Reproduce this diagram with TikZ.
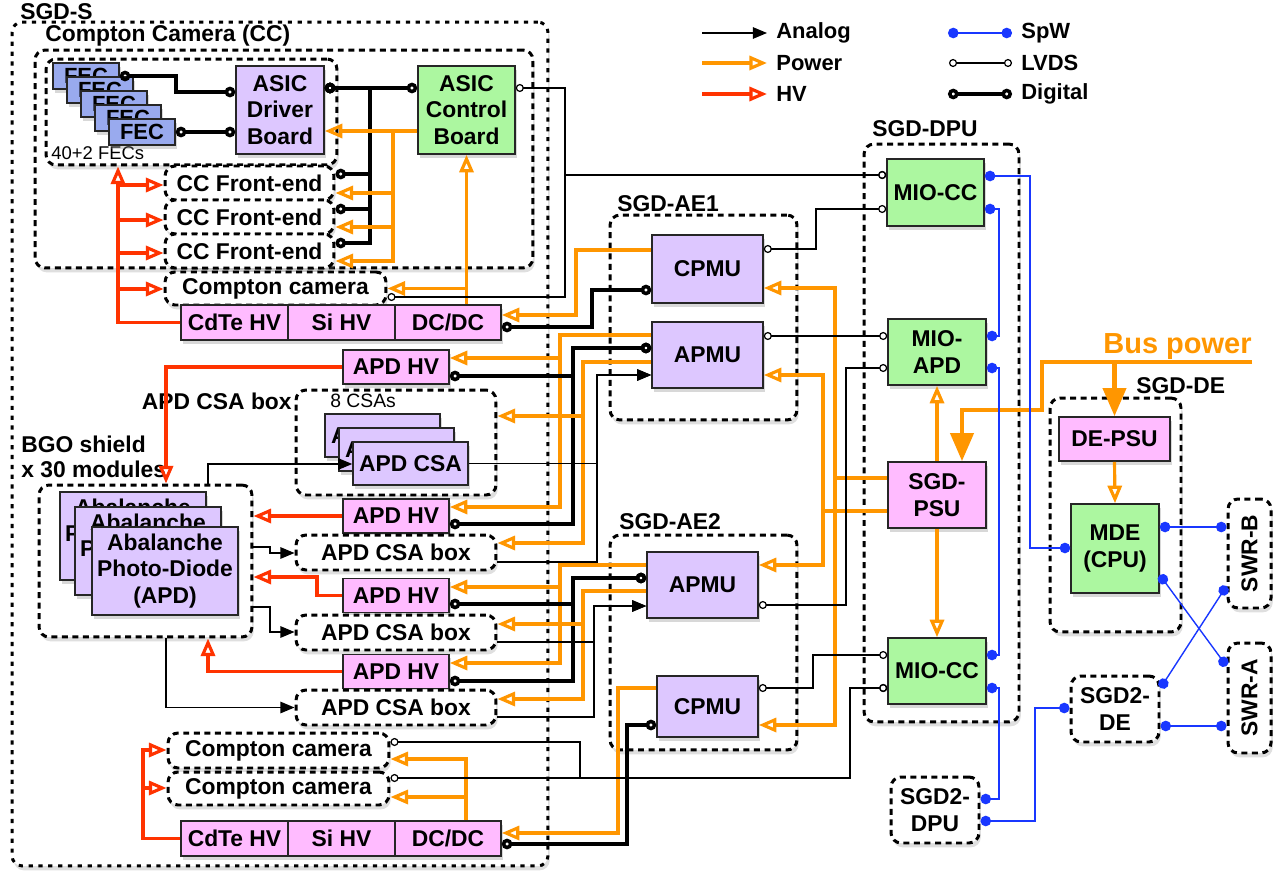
\documentclass[tikz,border=0pt]{standalone}
\usepackage{fontspec}
\setmainfont{Liberation Sans}
\usepackage{xcolor}
\usepackage{tikz}
\usetikzlibrary{arrows.meta, shadows, positioning}

\definecolor{pwr}{RGB}{255,150,0}
\definecolor{hvred}{RGB}{255,51,0}
\definecolor{spwblue}{RGB}{25,55,255}
\definecolor{lav}{RGB}{221,199,255}
\definecolor{pinkfill}{RGB}{255,187,255}
\definecolor{greenfill}{RGB}{172,247,160}
\definecolor{fecfill}{RGB}{153,170,238}

\begin{document}
\begin{tikzpicture}[x=0.02cm, y=-0.02cm,
        unit/.style={rectangle, draw=black!85, line width=0.9pt, inner sep=0pt, align=center, font=\fontsize{13}{15}\selectfont\bfseries, drop shadow={opacity=0.3, shadow xshift=1pt, shadow yshift=-2pt}},
        lavbox/.style={unit, fill=lav},
        pinkbox/.style={unit, fill=pinkfill},
        greenbox/.style={unit, fill=greenfill},
        fecbox/.style={unit, fill=fecfill, minimum width=1.32cm, minimum height=0.52cm, font=\fontsize{12.5}{14}\selectfont\bfseries},
        group/.style={rectangle, draw=black, fill=white, line width=1.7pt, dash pattern=on 3.4pt off 2.6pt, rounded corners=0.2cm, inner sep=0pt, align=center, font=\fontsize{13}{15}\selectfont\bfseries, drop shadow={opacity=0.25, shadow xshift=1pt, shadow yshift=-2.5pt}},
        outer/.style={group, dash pattern=on 2.4pt off 3.2pt},
        lbl/.style={anchor=west, inner sep=0pt, font=\fontsize{13}{14}\selectfont\bfseries},
        note/.style={anchor=west, inner sep=0pt, font=\fontsize{10.5}{12}\selectfont},
        legend/.style={anchor=west, inner xsep=0.18cm, inner ysep=0pt, font=\fontsize{12.5}{14}\selectfont\bfseries},
        analog/.style={draw=black, line width=0.75pt, -{Triangle[length=8pt, width=6.5pt]}},
        power/.style={draw=pwr, line width=1.8pt, -{Triangle[open, length=10pt, width=8pt]}},
        hv/.style={draw=hvred, line width=1.8pt, -{Triangle[open, length=10pt, width=8pt]}},
        digital/.style={draw=black, line width=2pt, {Circle[open, length=6pt, width=6pt]}-{Circle[open, length=6pt, width=6pt]}},
        lvds/.style={draw=black, line width=0.7pt, {Circle[open, length=4.6pt, width=4.6pt]}-{Circle[open, length=4.6pt, width=4.6pt]}},
        spw/.style={draw=spwblue, line width=0.8pt, {Circle[length=6pt]}-{Circle[length=6pt]}},
        bus/.style={draw=pwr, line width=2.6pt, -{Triangle[length=16pt, width=13pt]}}
    ]
        \useasboundingbox (0,0) rectangle (1278,875);

        % Nodes: SGD-S
        \node[outer, minimum width=10.72cm, minimum height=16.88cm] (sgds) at (280,444) {};
        \node[lbl] (sgdslbl) at (20,12) {SGD-S};
        \node[group, minimum width=9.96cm, minimum height=4.36cm] (cc) at (284,159) {};
        \node[lbl] (cclbl) at (45,36) {Compton Camera (CC)};
        \node[group, minimum width=5.82cm, minimum height=2.12cm] (fecgrp) at (191.5,112) {};
        \node[note] (feclbl) at (51,153) {40+2 FECs};
        \node[fecbox] (fec0) at (86,76) {FEC};
        \node[fecbox] (fec1) at (100,90) {FEC};
        \node[fecbox] (fec2) at (114,104) {FEC};
        \node[fecbox] (fec3) at (128,118) {FEC};
        \node[fecbox] (fec4) at (142,132) {FEC};
        \node[lavbox, minimum width=1.76cm, minimum height=1.76cm] (drv) at (280,110) {ASIC\\Driver\\Board};
        \node[greenbox, minimum width=1.94cm, minimum height=1.76cm] (ctl) at (466.5,110) {ASIC\\Control\\Board};
        \node[group, minimum width=3.38cm, minimum height=0.68cm] (fe1) at (249.5,183) {CC Front-end};
        \node[group, minimum width=3.38cm, minimum height=0.68cm] (fe2) at (249.5,217) {CC Front-end};
        \node[group, minimum width=3.38cm, minimum height=0.68cm] (fe3) at (249.5,251) {CC Front-end};
        \node[group, minimum width=4.42cm, minimum height=0.66cm] (cam1) at (275.5,288.5) {Compton camera};
        \node[pinkbox, minimum width=2.14cm, minimum height=0.7cm] (cdte1) at (234.5,322.5) {CdTe HV};
        \node[pinkbox, minimum width=2.14cm, minimum height=0.7cm] (si1) at (341.5,322.5) {Si HV};
        \node[pinkbox, minimum width=2.12cm, minimum height=0.7cm] (dcdc1) at (448,322.5) {DC/DC};

        \node[pinkbox, minimum width=2.12cm, minimum height=0.68cm] (apdhv1) at (396,367) {APD HV};
        \node[group, minimum width=4cm, minimum height=2.1cm] (csabox1) at (396,442.5) {};
        \node[lbl, anchor=east] (csalbl) at (292,401) {APD CSA box};
        \node[note, font=\fontsize{11}{13}\selectfont] (csanum) at (330,401) {8 CSAs};
        \node[lavbox, minimum width=2.3cm, minimum height=0.86cm] (csa0) at (382.5,435.5) {APD CSA};
        \node[lavbox, minimum width=2.3cm, minimum height=0.86cm] (csa1) at (396.5,449.5) {APD CSA};
        \node[lavbox, minimum width=2.3cm, minimum height=0.86cm] (csa2) at (410.5,463.5) {APD CSA};
        \node[pinkbox, minimum width=2.12cm, minimum height=0.68cm] (apdhv2) at (396,516) {APD HV};
        \node[group, minimum width=4cm, minimum height=0.7cm] (csabox2) at (396,552.5) {APD CSA box};
        \node[pinkbox, minimum width=2.12cm, minimum height=0.68cm] (apdhv3) at (396,595.5) {APD HV};
        \node[group, minimum width=4cm, minimum height=0.7cm] (csabox3) at (396,632.5) {APD CSA box};
        \node[pinkbox, minimum width=2.12cm, minimum height=0.68cm] (apdhv4) at (396,671.5) {APD HV};
        \node[group, minimum width=4cm, minimum height=0.7cm] (csabox4) at (396,707.5) {APD CSA box};
        \node[group, minimum width=4.26cm, minimum height=3.04cm] (apdgrp) at (145.5,561) {};
        \node[lbl, align=left] (bgolbl) at (21,457) {BGO shield\\x 30 modules};
        \node[lavbox, minimum width=2.92cm, minimum height=1.76cm] (apd0) at (133,536) {Abalanche\\Photo-Diode\\(APD)};
        \node[lavbox, minimum width=2.92cm, minimum height=1.76cm] (apd1) at (148,551) {Abalanche\\Photo-Diode\\(APD)};
        \node[lavbox, minimum width=2.92cm, minimum height=1.76cm] (apd2) at (165,571) {Abalanche\\Photo-Diode\\(APD)};

        \node[group, minimum width=4.42cm, minimum height=0.7cm] (cam2) at (278.5,750.5) {Compton camera};
        \node[group, minimum width=4.42cm, minimum height=0.66cm] (cam3) at (278.5,788.5) {Compton camera};
        \node[pinkbox, minimum width=2.14cm, minimum height=0.7cm] (cdte2) at (234.5,838.5) {CdTe HV};
        \node[pinkbox, minimum width=2.14cm, minimum height=0.7cm] (si2) at (341.5,838.5) {Si HV};
        \node[pinkbox, minimum width=2.12cm, minimum height=0.7cm] (dcdc2) at (448,838.5) {DC/DC};

        % Nodes: SGD-AE1 / SGD-AE2
        \node[group, minimum width=3.74cm, minimum height=4.1cm] (ae1) at (703.5,317.5) {};
        \node[lbl] (ae1lbl) at (617,204) {SGD-AE1};
        \node[lavbox, minimum width=2.22cm, minimum height=1.36cm] (cpmu1) at (707.5,269) {CPMU};
        \node[lavbox, minimum width=2.22cm, minimum height=1.32cm] (apmu1) at (707.5,355) {APMU};
        \node[group, minimum width=3.74cm, minimum height=4.3cm] (ae2) at (703.5,642.5) {};
        \node[lbl] (ae2lbl) at (619,522) {SGD-AE2};
        \node[lavbox, minimum width=2.22cm, minimum height=1.32cm] (apmu2) at (702.5,585) {APMU};
        \node[lavbox, minimum width=2.02cm, minimum height=1.22cm] (cpmu2) at (707.5,706.5) {CPMU};

        % Nodes: SGD-DPU
        \node[group, minimum width=3.1cm, minimum height=11.56cm] (dpu) at (941.5,433) {};
        \node[lbl] (dpulbl) at (872,129) {SGD-DPU};
        \node[greenbox, minimum width=1.94cm, minimum height=1.34cm] (miocc1) at (935.5,192.5) {MIO-CC};
        \node[greenbox, minimum width=1.96cm, minimum height=1.32cm] (mioapd) at (937,352) {MIO-\\APD};
        \node[pinkbox, minimum width=1.96cm, minimum height=1.32cm] (psu) at (937,495) {SGD-\\PSU};
        \node[greenbox, minimum width=1.96cm, minimum height=1.32cm] (miocc2) at (937,671) {MIO-CC};

        % Nodes: SGD-DE and the rest
        \node[group, minimum width=2.62cm, minimum height=4.68cm] (de) at (1115.5,515) {};
        \node[lbl] (delbl) at (1136,386) {SGD-DE};
        \node[pinkbox, minimum width=2.22cm, minimum height=0.88cm] (depsu) at (1114.5,439) {DE-PSU};
        \node[greenbox, minimum width=1.76cm, minimum height=1.78cm] (mde) at (1115,548.5) {MDE\\(CPU)};
        \node[group, minimum width=0.86cm, minimum height=2.18cm] (swrb) at (1249.5,553.5) {\rotatebox{90}{SWR-B}};
        \node[group, minimum width=0.86cm, minimum height=2.2cm] (swra) at (1249.5,698) {\rotatebox{90}{SWR-A}};
        \node[group, minimum width=1.76cm, minimum height=1.32cm] (sgd2de) at (1115,709) {SGD2-\\DE};
        \node[group, minimum width=1.76cm, minimum height=1.32cm] (sgd2dpu) at (935,810) {SGD2-\\DPU};
        \node[text=pwr, inner sep=0pt, font=\fontsize{16.5}{18}\selectfont\bfseries] (buslbl) at (1177.5,347) {Bus power};
        \coordinate (busin) at (1252,362);

        % Legend
        \coordinate (lgana) at (702,33);
        \coordinate (lgpwr) at (702,63);
        \coordinate (lghv) at (702,94);
        \coordinate (lgspw) at (948,33);
        \coordinate (lglvds) at (949,63);
        \coordinate (lgdig) at (948,94);
        \node[legend] (lganatxt) at (767,33) {Analog};
        \node[legend] (lgpwrtxt) at (767,63) {Power};
        \node[legend] (lghvtxt) at (767,94) {HV};
        \node[legend] (lgspwtxt) at (1012,33) {SpW};
        \node[legend] (lglvdstxt) at (1012,63) {LVDS};
        \node[legend] (lgdigtxt) at (1012,94) {Digital};
        \draw[analog] (lgana) -- (lganatxt.west);
        \draw[power] (lgpwr) -- (lgpwrtxt.west);
        \draw[hv] (lghv) -- (lghvtxt.west);
        \draw[spw] (lgspw) -- (lgspwtxt.west);
        \draw[lvds] (lglvds) -- (lglvdstxt.west);
        \draw[digital] (lgdig) -- (lgdigtxt.west);

        % Connectors: Compton camera
        \draw[digital] (fec0.east) -| (176,92) -- (drv.west |- 0,92);
        \draw[digital] (fec4.east) -- (drv.west |- fec4.east);
        \draw[digital] (drv.east |- 0,88) -- (ctl.west |- 0,88);
        \draw[digital] (drv.east |- 0,88) -| (370,174) -- (fe1.east |- 0,174);
        \draw[digital] (drv.east |- 0,88) -| (370,209) -- (fe2.east |- 0,209);
        \draw[digital] (drv.east |- 0,88) -| (370,243) -- (fe3.east |- 0,243);
        \draw[power] (ctl.west |- 0,131) -- (drv.east |- 0,131);
        \draw[power] (ctl.west |- 0,131) -| (393,193) -- (fe1.east |- 0,193);
        \draw[power] (ctl.west |- 0,131) -| (393,227) -- (fe2.east |- 0,227);
        \draw[power] (ctl.west |- 0,131) -| (393,261) -- (fe3.east |- 0,261);
        \draw[power] (dcdc1.north -| ctl.south) -- (ctl.south);
        \draw[power] (dcdc1.north -| ctl.south) |- (cam1.east);
        \draw[hv] (cdte1.west) -| (fecgrp.south -| 118,0);
        \draw[hv] (cdte1.west) -| (118,185) -- (fe1.west |- 0,185);
        \draw[hv] (cdte1.west) -| (118,220) -- (fe2.west |- 0,220);
        \draw[hv] (cdte1.west) -| (118,253) -- (fe3.west |- 0,253);
        \draw[hv] (cdte1.west) -| (118,289) -- (cam1.west |- 0,289);
        \draw[lvds] (ctl.east |- 0,88) -| (565,175) -- (miocc1.west |- 0,175);
        \draw[lvds] (cam1.east |- 0,297) -| (565,175) -- (miocc1.west |- 0,175);
        \draw[power] (cpmu1.west |- 0,250) -| (576,315) -- (dcdc1.east |- 0,315);
        \draw[digital] (cpmu1.west |- 0,290) -| (592,327) -- (dcdc1.east |- 0,327);

        \draw[power] (cpmu2.west |- 0,688) -| (618,833) -- (dcdc2.east |- 0,833);
        \draw[digital] (cpmu2.west |- 0,725) -| (627,844) -- (dcdc2.east |- 0,844);
        \draw[power] (dcdc2.north -| 466,0) |- (cam2.east |- 0,759);
        \draw[power] (dcdc2.north -| 466,0) |- (cam3.east |- 0,797);
        \draw[hv] (cdte2.west) -| (143,750) -- (cam2.west |- 0,750);
        \draw[hv] (cdte2.west) -| (143,788) -- (cam3.west |- 0,788);
        \draw[lvds] (cam2.east |- 0,742) -| (580,778) -| (850,688) -- (miocc2.west |- 0,688);
        \draw[lvds] (cam3.east |- 0,778) -| (850,688) -- (miocc2.west |- 0,688);

        % Connectors: APD
        \draw[power] (apmu1.west |- 0,335) -| (560,358) -- (apdhv1.east |- 0,358);
        \draw[power] (apmu1.west |- 0,335) -| (560,507) -- (apdhv2.east |- 0,507);
        \draw[power] (apmu2.west |- 0,565) -| (560,587) -- (apdhv3.east |- 0,587);
        \draw[power] (apmu2.west |- 0,565) -| (560,663) -- (apdhv4.east |- 0,663);
        \draw[digital] (apmu1.west |- 0,348) -| (573,376) -- (apdhv1.east |- 0,376);
        \draw[digital] (apmu1.west |- 0,348) -| (573,524) -- (apdhv2.east |- 0,524);
        \draw[digital] (apmu2.west |- 0,578) -| (573,604) -- (apdhv3.east |- 0,604);
        \draw[digital] (apmu2.west |- 0,578) -| (573,681) -- (apdhv4.east |- 0,681);
        \draw[power] (apmu1.west |- 0,362) -| (583,416) -- (csabox1.east |- 0,416);
        \draw[power] (apmu1.west |- 0,362) -| (583,543) -- (csabox2.east |- 0,543);
        \draw[power] (apmu2.west |- 0,591) -| (583,624) -- (csabox3.east |- 0,624);
        \draw[power] (apmu2.west |- 0,591) -| (583,699) -- (csabox4.east |- 0,699);
        \draw[analog] (csa2.east) -| (597,375) -- (apmu1.west |- 0,375);
        \draw[analog] (csabox2.east |- 0,562) -| (597,375) -- (apmu1.west |- 0,375);
        \draw[analog] (csabox3.east |- 0,642) -| (594,606) -- (apmu2.west |- 0,606);
        \draw[analog] (csabox4.east |- 0,717) -| (594,606) -- (apmu2.west |- 0,606);
        \draw[analog] (apdgrp.north -| 208,0) |- (csa2.west |- 0,464);
        \draw[analog] (apdgrp.east |- 0,547) -| (270,553) -- (csabox2.west |- 0,553);
        \draw[analog] (apdgrp.east |- 0,607) -| (270,632) -- (csabox3.west |- 0,632);
        \draw[analog] (apdgrp.south -| 166,0) |- (csabox4.west);
        \draw[hv] (apdhv1.west) -| (apdgrp.north -| 166,0);
        \draw[hv] (apdhv2.west) -- (apdgrp.east |- apdhv2.west);
        \draw[hv] (apdhv3.west) -| (317,577) -- (apdgrp.east |- 0,577);
        \draw[hv] (apdhv4.west) -| (apdgrp.south -| 208,0);

        % Connectors: AE to DPU
        \draw[power] (psu.west |- 0,478) -| (835,288) -- (cpmu1.east |- 0,288);
        \draw[power] (psu.west |- 0,478) -| (835,725) -- (cpmu2.east |- 0,725);
        \draw[power] (psu.west |- 0,511) -| (823,375) -- (apmu1.east |- 0,375);
        \draw[power] (psu.west |- 0,511) -| (823,565) -- (apmu2.east |- 0,565);
        \draw[lvds] (cpmu1.east |- 0,249) -| (816,209) -- (miocc1.west |- 0,209);
        \draw[lvds] (apmu1.east |- 0,336) -- (mioapd.west |- 0,336);
        \draw[lvds] (apmu2.east |- 0,605) -| (846,368) -- (mioapd.west |- 0,368);
        \draw[lvds] (cpmu2.east |- 0,688) -| (813,655) -- (miocc2.west |- 0,655);

        % Connectors: DPU, DE, SpW
        \draw[power] (psu.north) -- (mioapd.south);
        \draw[power] (psu.south) -- (miocc2.north);
        \draw[bus] (busin) -| (1042,410) -| (psu.north -| 962,0);
        \draw[bus] (busin) -| (depsu.north);
        \draw[power] (depsu.south) -- (mde.north);
        \draw[spw] (miocc1.east |- 0,176) -| (1030,548) -- (mde.west |- 0,548);
        \draw[spw] (miocc1.east |- 0,209) -| (999,336) -- (mioapd.east |- 0,336);
        \draw[spw] (mioapd.east |- 0,368) -| (999,655) -- (miocc2.east |- 0,655);
        \draw[spw] (miocc2.east |- 0,688) -| (999,799) -- (sgd2dpu.east |- 0,799);
        \draw[spw] (sgd2dpu.east |- 0,821) -| (1035,708) -- (sgd2de.west |- 0,708);
        \draw[spw] (mde.east |- 0,527) -- (swrb.west |- 0,527);
        \draw[spw] (mde.east |- 0,575) -- (swra.west |- 0,666);
        \draw[spw] (sgd2de.east |- 0,688) -- (swrb.west |- 0,586);
        \draw[spw] (sgd2de.east |- 0,726) -- (swra.west |- 0,726);
    \end{tikzpicture}
\end{document}
